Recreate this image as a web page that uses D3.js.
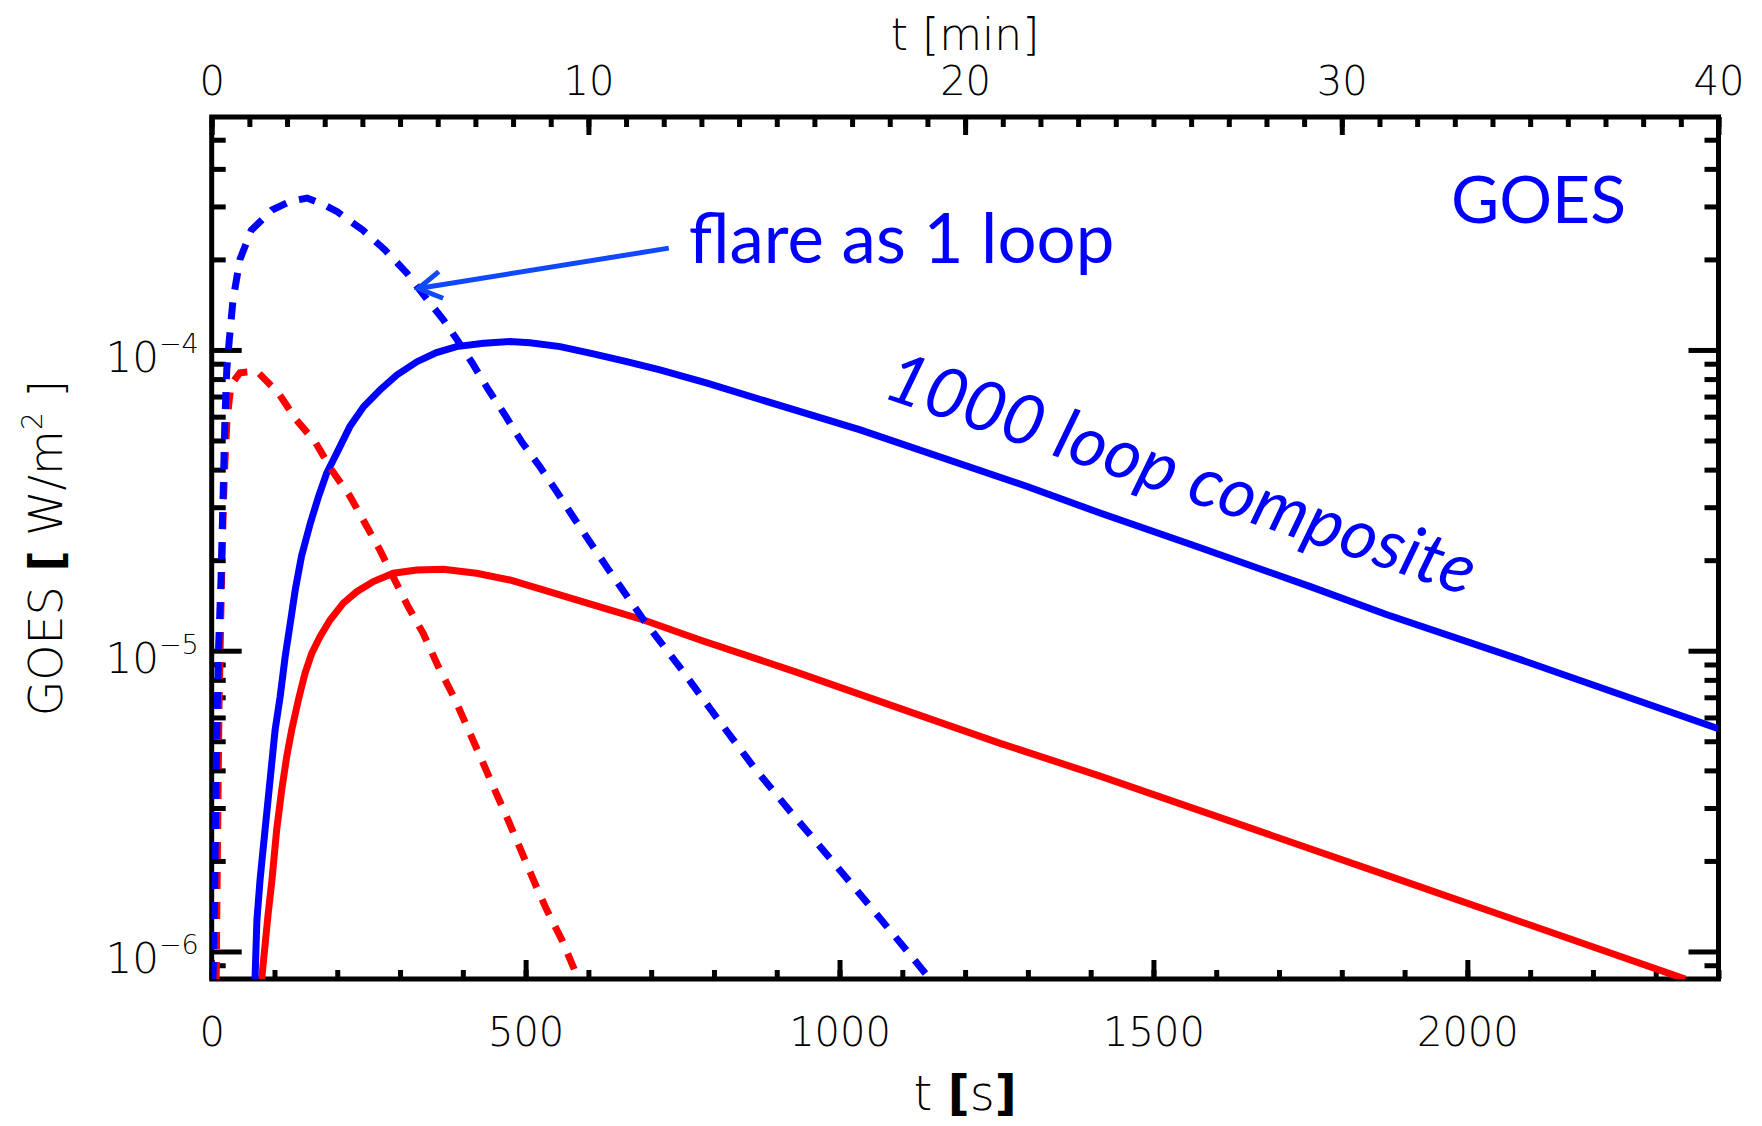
<!DOCTYPE html>
<html>
<head>
<meta charset="utf-8">
<script src="https://cdn.jsdelivr.net/npm/d3@7"></script>
<style>
  body { margin: 0; background: #fff; }
  svg { display: block; }
</style>
</head>
<body>
<svg id="chart" width="1762" height="1126"></svg>
<script>
// tick labels
const secondTicks = [0, 500, 1000, 1500, 2000];
const minuteTicks = [0, 10, 20, 30, 40];
const fluxDecades = [1e-6, 1e-5, 1e-4];

// flare as 1 loop, blue (dashed)
const oneLoopBlueT = [2, 4.5, 7.6, 10.8, 14.8, 18, 21, 24, 28, 34, 45, 63, 96, 125, 152, 180, 200, 241, 276, 311, 340, 369, 391, 415, 441, 467, 494, 523, 550, 579, 632, 688, 749, 807, 865, 924, 985, 1049, 1110, 1144];
const oneLoopBlueF = [8.1e-7, 1.48e-6, 4.7e-6, 1.0e-5, 1.72e-5, 3.17e-5, 5.85e-5, 8.6e-5, 1.08e-4, 1.47e-4, 2.0e-4, 2.5e-4, 2.92e-4, 3.12e-4, 3.2e-4, 3.03e-4, 2.88e-4, 2.5e-4, 2.15e-4, 1.8e-4, 1.5e-4, 1.26e-4, 1.08e-4, 9.05e-5, 7.36e-5, 6.08e-5, 4.94e-5, 4.08e-5, 3.37e-5, 2.72e-5, 1.86e-5, 1.265e-5, 8.63e-6, 5.89e-6, 4.06e-6, 2.88e-6, 2.04e-6, 1.41e-6, 9.9e-7, 8.1e-7];

// flare as 1 loop, red (dashed)
const oneLoopRedT = [7.2, 8, 10, 11.6, 14, 16.4, 18.8, 21.2, 24.4, 30.7, 45, 72, 106, 135, 165, 191, 220, 244, 268, 289, 313, 337, 361, 388, 409, 430, 451, 472, 515, 534, 558, 584];
const oneLoopRedF = [8.1e-7, 1.27e-6, 3.19e-6, 6.35e-6, 1.17e-5, 2.0e-5, 3.17e-5, 4.31e-5, 5.85e-5, 7.65e-5, 8.4e-5, 8.5e-5, 7.2e-5, 5.85e-5, 4.94e-5, 3.99e-5, 3.27e-5, 2.66e-5, 2.16e-5, 1.76e-5, 1.40e-5, 1.14e-5, 8.85e-6, 6.86e-6, 5.45e-6, 4.34e-6, 3.44e-6, 2.74e-6, 1.68e-6, 1.37e-6, 1.09e-6, 8.1e-7];

// 1000 loop composite, blue (solid)
const compBlueT = [69, 72, 77, 85, 93, 101, 109, 117, 125, 133, 143, 157, 170, 183, 199, 220, 242, 268, 295, 327, 358, 390, 433, 475, 507, 555, 608, 661, 714, 789, 1033, 1300, 1415, 1569, 1751, 1871, 2087, 2400];
const compBlueF = [8.1e-7, 1.27e-6, 1.73e-6, 2.54e-6, 3.72e-6, 5.45e-6, 7.03e-6, 9.55e-6, 1.23e-5, 1.59e-5, 2.06e-5, 2.65e-5, 3.25e-5, 3.89e-5, 4.53e-5, 5.56e-5, 6.48e-5, 7.36e-5, 8.26e-5, 9.14e-5, 9.8e-5, 1.026e-4, 1.052e-4, 1.066e-4, 1.057e-4, 1.026e-4, 9.7e-5, 9.14e-5, 8.58e-5, 7.75e-5, 5.42e-5, 3.51e-5, 2.87e-5, 2.22e-5, 1.63e-5, 1.32e-5, 9.3e-6, 5.5e-6];

// 1000 loop composite, red (solid)
const compRedT = [79.6, 90, 96, 103.5, 111.5, 119.5, 127.4, 138, 148.6, 159.3, 172.5, 188.5, 209.6, 231, 257.4, 289.3, 326.5, 369, 422, 475, 528, 581, 634, 688, 778, 937, 1096, 1256, 1415, 1886, 2148, 2347];
const compRedF = [8.1e-7, 1.34e-6, 1.73e-6, 2.54e-6, 3.44e-6, 4.45e-6, 5.45e-6, 6.86e-6, 8.41e-6, 9.8e-6, 1.114e-5, 1.265e-5, 1.44e-5, 1.571e-5, 1.697e-5, 1.81e-5, 1.856e-5, 1.866e-5, 1.81e-5, 1.719e-5, 1.592e-5, 1.476e-5, 1.366e-5, 1.265e-5, 1.086e-5, 8.41e-6, 6.43e-6, 4.92e-6, 3.83e-6, 1.75e-6, 1.13e-6, 8.1e-7];

const series = [
  { t: compRedT, f: compRedF, color: "#ff0000", dash: null },
  { t: compBlueT, f: compBlueF, color: "#0000ff", dash: null },
  { t: oneLoopRedT, f: oneLoopRedF, color: "#ff0000", dash: "17,13" },
  { t: oneLoopBlueT, f: oneLoopBlueF, color: "#0000ff", dash: "17,13" }
];

const margin = { top: 117, right: 43.5, bottom: 147, left: 211.7 };
const width = 1762 - margin.left - margin.right;
const height = 1126 - margin.top - margin.bottom;
const axisFont = "'DejaVu Sans', sans-serif";
const noteFont = "Lato, 'Open Sans', sans-serif";

const svg = d3.select("#chart");
svg.append("rect").attr("width", 1762).attr("height", 1126).attr("fill", "#fff");

const g = svg.append("g").attr("transform", `translate(${margin.left},${margin.top})`);

const x = d3.scaleLinear().domain([0, 2400]).range([0, width]);
const xMin = d3.scaleLinear().domain([0, 40]).range([0, width]);
const y = d3.scaleLog().domain([8.1e-7, 5.95e-4]).range([height, 0]);

// minor log ticks (2..9 x decade), taken from the scale itself
const minorFlux = y.ticks().filter(v => !fluxDecades.some(d => Math.abs(v / d - 1) < 1e-6));

function styleAxis(sel) {
  sel.select(".domain").remove();
  sel.selectAll(".tick line").attr("stroke", "#000").attr("stroke-width", 5);
  sel.selectAll("text").attr("font-family", axisFont).attr("font-weight", 200)
    .attr("font-size", 40).attr("fill", "#000");
}

// bottom axis (seconds)
g.append("g").attr("transform", `translate(0,${height})`)
  .call(d3.axisBottom(x).tickValues(d3.range(0, 2401, 100)).tickSize(-9).tickFormat(""))
  .call(styleAxis);
g.append("g").attr("transform", `translate(0,${height})`)
  .call(d3.axisBottom(x).tickValues(secondTicks).tickSize(-19).tickPadding(39).tickFormat(d3.format("d")))
  .call(styleAxis);

// top axis (minutes)
g.append("g")
  .call(d3.axisTop(xMin).tickValues(d3.range(0, 41, 1)).tickSize(-10).tickFormat(""))
  .call(styleAxis);
g.append("g")
  .call(d3.axisTop(xMin).tickValues(minuteTicks).tickSize(-18).tickPadding(22).tickFormat(d3.format("d")))
  .call(styleAxis);

// left and right log axes
g.append("g").call(d3.axisLeft(y).tickValues(minorFlux).tickSize(-14).tickFormat("")).call(styleAxis);
g.append("g").call(d3.axisLeft(y).tickValues(fluxDecades).tickSize(-30).tickFormat("")).call(styleAxis);
g.append("g").attr("transform", `translate(${width},0)`)
  .call(d3.axisRight(y).tickValues(minorFlux).tickSize(-14).tickFormat("")).call(styleAxis);
g.append("g").attr("transform", `translate(${width},0)`)
  .call(d3.axisRight(y).tickValues(fluxDecades).tickSize(-30).tickFormat("")).call(styleAxis);

// decade labels 10^n
const decLab = g.append("g").selectAll("text").data(fluxDecades).join("text")
  .attr("x", -13)
  .attr("y", d => y(d) + 22)
  .attr("text-anchor", "end")
  .attr("font-family", axisFont).attr("font-weight", 200)
  .attr("fill", "#000");
decLab.append("tspan").attr("font-size", 42).text("10");
decLab.append("tspan").attr("font-size", 27).attr("dy", -19)
  .text(d => "\u2212" + Math.round(-Math.log10(d)));

// frame
g.append("rect").attr("width", width).attr("height", height)
  .attr("fill", "none").attr("stroke", "#000").attr("stroke-width", 5);

// curves
svg.append("defs").append("clipPath").attr("id", "plotClip")
  .append("rect").attr("width", width).attr("height", height);

const line = d3.line().x(d => x(d[0])).y(d => y(d[1]));

g.append("g").attr("clip-path", "url(#plotClip)")
  .selectAll("path").data(series).join("path")
  .attr("d", s => line(d3.zip(s.t, s.f)))
  .attr("fill", "none")
  .attr("stroke", s => s.color)
  .attr("stroke-width", 7)
  .attr("stroke-dasharray", s => s.dash);

// axis titles
svg.append("text")
  .attr("x", margin.left + width / 2).attr("y", 50)
  .attr("text-anchor", "middle")
  .attr("font-family", axisFont).attr("font-weight", 200).attr("font-size", 44)
  .text("t [min]");

const bottomTitle = svg.append("text")
  .attr("x", margin.left + width / 2).attr("y", 1110)
  .attr("text-anchor", "middle")
  .attr("font-family", axisFont).attr("font-weight", 200).attr("font-size", 48);
bottomTitle.append("tspan").text("t ");
bottomTitle.append("tspan").attr("font-weight", "bold").text("[");
bottomTitle.append("tspan").text("s");
bottomTitle.append("tspan").attr("font-weight", "bold").text("]");

const yTitle = svg.append("text")
  .attr("transform", `translate(62,${margin.top + height / 2}) rotate(-90)`)
  .attr("text-anchor", "middle")
  .attr("font-family", axisFont).attr("font-weight", 200).attr("font-size", 46);
yTitle.append("tspan").text("GOES ");
yTitle.append("tspan").attr("font-weight", "bold").text("[");
yTitle.append("tspan").text(" W/m");
yTitle.append("tspan").attr("font-size", 28).attr("dy", -20).text("2");
yTitle.append("tspan").attr("dy", 20).text(" ]");

// annotations
const blue = "#0000ff";
g.append("text")
  .attr("x", x(1974)).attr("y", y(2.64e-4))
  .attr("font-family", noteFont).attr("font-size", 66).attr("fill", blue)
  .text("GOES");

g.append("text")
  .attr("x", x(760)).attr("y", y(1.946e-4))
  .attr("font-family", noteFont).attr("font-size", 69).attr("fill", blue)
  .text("flare as 1 loop");

g.append("text")
  .attr("transform", `translate(${x(1066)},${y(6.98e-5)}) rotate(18.8)`)
  .attr("font-family", noteFont).attr("font-size", 70).attr("font-style", "italic").attr("fill", blue)
  .text("1000 loop composite");

const arrowColor = "#1048ff";
svg.select("defs").append("marker")
  .attr("id", "chevron")
  .attr("viewBox", "-30 -20 34 40")
  .attr("refX", 0).attr("refY", 0)
  .attr("markerWidth", 34).attr("markerHeight", 40)
  .attr("markerUnits", "userSpaceOnUse")
  .attr("orient", "auto")
  .append("path")
  .attr("d", "M-23,-13.5L0,0L-23,13.5")
  .attr("fill", "none").attr("stroke", arrowColor).attr("stroke-width", 5);

g.append("line")
  .attr("x1", x(728)).attr("y1", y(2.18e-4))
  .attr("x2", x(329)).attr("y2", y(1.6e-4))
  .attr("stroke", arrowColor).attr("stroke-width", 5)
  .attr("marker-end", "url(#chevron)");
</script>
</body>
</html>
